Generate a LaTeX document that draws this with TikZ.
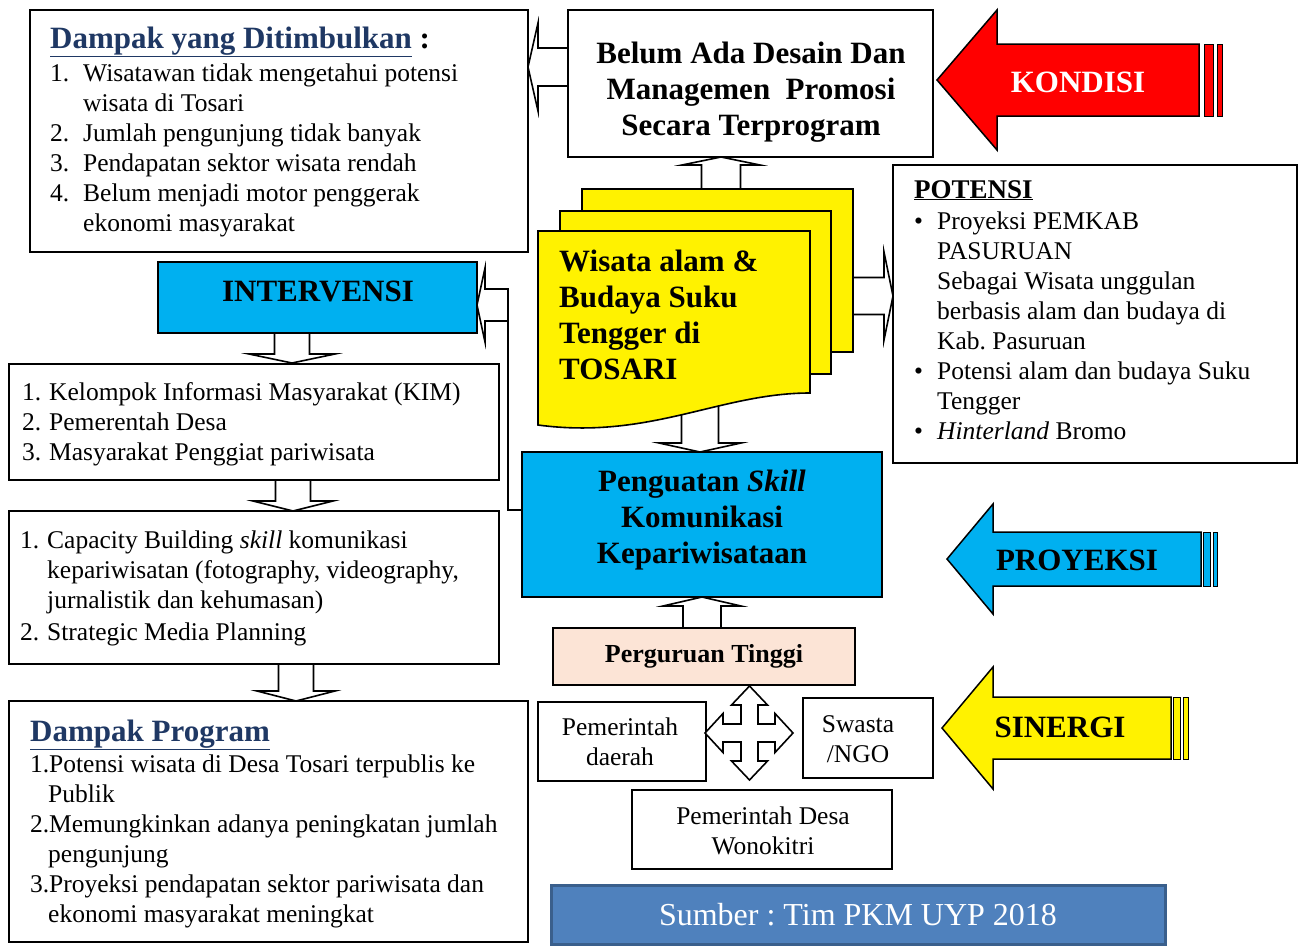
\documentclass[tikz,border=0pt]{standalone}
\usepackage{fontspec}
\setmainfont{Liberation Serif}
\usetikzlibrary{calc}
\frenchspacing
\definecolor{cyanb}{HTML}{00B0F0}
\definecolor{titleblue}{HTML}{1F3864}
\definecolor{peach}{HTML}{FCE4D6}
\definecolor{sumfill}{HTML}{4F81BD}
\definecolor{sumline}{HTML}{3A5F8C}
\newcommand\numlab[2][33pt]{\makebox[#1][l]{#2}}
\newcommand\lind[1][33pt]{\hspace*{#1}}
% hollow block arrow: start, end, shaft half width, head half width, head length
\newcommand\blockarrow[5]{%
  \draw[blk] ($#1!#3pt!90:#2$) -- ($($#2!#5pt!#1$)!#3pt!90:#2$) -- ($($#2!#5pt!#1$)!#4pt!90:#2$) -- #2
   -- ($($#2!#5pt!#1$)!#4pt!-90:#2$) -- ($($#2!#5pt!#1$)!#3pt!-90:#2$) -- ($#1!#3pt!-90:#2$) -- cycle;}
\begin{document}
\begin{tikzpicture}[x=1pt,y=-1pt,
  box/.style={draw=black, line width=1.6pt, fill=white, inner sep=0pt, outer sep=0pt, anchor=north west},
  blk/.style={draw=black, line width=1.6pt, fill=white, line join=miter},
  body/.style={inner sep=0pt, align=left, anchor=base west, font=\fontsize{25.5}{30}\selectfont},
  bodyc/.style={inner sep=0pt, align=center, font=\fontsize{25.5}{30}\selectfont},
  bold/.style={inner sep=0pt, align=center, font=\fontsize{31}{36}\selectfont\bfseries},
  bigarr/.style={draw=black, line width=1.5pt, line join=miter},
  stripe/.style={draw=black, line width=1pt},
  docs/.style={draw=black, line width=1.6pt, fill=yellow},
]
\useasboundingbox (0,0) rectangle (1300,945);

% boxes
\node[box, minimum width=498pt, minimum height=242pt] (dampak) at (30,10) {};
\node[box, minimum width=365pt, minimum height=147pt] (belum) at (568,10) {};
\node[box, minimum width=404pt, minimum height=298pt] (potensi) at (893,165) {};
\node[box, fill=cyanb, minimum width=319pt, minimum height=71pt] (interv) at (158,262) {};
\node[box, minimum width=490pt, minimum height=116pt] (kim) at (9,364) {};
\node[box, minimum width=490pt, minimum height=153pt] (cap) at (9,511) {};
\node[box, minimum width=519pt, minimum height=241pt] (dprog) at (9,701) {};
\node[box, fill=cyanb, minimum width=360pt, minimum height=145pt] (peng) at (522,452) {};
\node[box, fill=peach, line width=1.2pt, minimum width=302pt, minimum height=57pt] (perg) at (553,628) {};
\node[box, minimum width=168pt, minimum height=79pt] (pemda) at (538,702) {};
\node[box, minimum width=130pt, minimum height=80pt] (swasta) at (803,698) {};
\node[box, minimum width=260pt, minimum height=79pt] (desa) at (632,790) {};

% arrow end points
\coordinate (a1s) at (belum.west |- 0,67);
\coordinate (a1e) at (dampak.east |- 0,67);
\coordinate (a2s) at (721,195);
\coordinate (a2e) at (721,157);
\coordinate (a3s) at (845,296);
\coordinate (a3e) at (potensi.west |- 0,296);
\coordinate (a4s) at (700,400);
\coordinate (a4e) at (700,452);
\coordinate (a5s) at (508,305);
\coordinate (a5e) at (interv.east |- 0,305);
\coordinate (a6s) at (292,333);
\coordinate (a6e) at (292,363);
\coordinate (a7s) at (293,480);
\coordinate (a7e) at (293,511);
\coordinate (a8s) at (296,664);
\coordinate (a8e) at (296,701);
\coordinate (a9s) at (702,628);
\coordinate (a9e) at (702,597);
\coordinate (pl) at (508,510);

\blockarrow{(a1s)}{(a1e)}{19}{44}{10}
\blockarrow{(a2s)}{(a2e)}{19.5}{39}{8}
\blockarrow{(a3s)}{(a3e)}{18.5}{44}{9}
\blockarrow{(a4s)}{(a4e)}{18.5}{41}{9}
\blockarrow{(a5s)}{(a5e)}{16}{37}{8}
\blockarrow{(a6s)}{(a6e)}{17.5}{43}{9}
\blockarrow{(a7s)}{(a7e)}{17.5}{40}{10}
\blockarrow{(a8s)}{(a8e)}{17.5}{39}{10}
\blockarrow{(a9s)}{(a9e)}{19}{39}{9}
\draw[line width=1.6pt] (peng.west |- pl) -- (pl) -- (508,321);

% document stack
\draw[docs] (582,189) rectangle (853,352);
\draw[docs] (560,211) rectangle (831,374);
\draw[docs] (538,231) -- (810,231) -- (810,393) .. controls (720,393) and (650,440) .. (538,425) -- cycle;

% four-way arrow
\begin{scope}[shift={(749.5,733)}]
\draw[blk] (0,-47) -- (18,-28) -- (8.5,-28) -- (8.5,-9) -- (25.5,-9) -- (25.5,-19.5) -- (43.5,0) -- (25.5,19.5) -- (25.5,9) -- (8.5,9) -- (8.5,28) -- (18,28) -- (0,47) -- (-18,28) -- (-8.5,28) -- (-8.5,9) -- (-26.5,9) -- (-26.5,19.5) -- (-44.5,0) -- (-26.5,-19.5) -- (-26.5,-9) -- (-8.5,-9) -- (-8.5,-28) -- (-18,-28) -- cycle;
\end{scope}

% big arrows
\draw[bigarr, fill=red] (937,80) -- (997,10) -- (997,44) -- (1199,44) -- (1199,116) -- (997,116) -- (997,150) -- cycle;
\draw[stripe, fill=red] (1204,44) rectangle (1213,116);
\draw[stripe, fill=red] (1217,44) rectangle (1222,116);
\draw[bigarr, fill=cyanb] (947,559) -- (993,504) -- (993,532) -- (1201,532) -- (1201,586) -- (993,586) -- (993,614) -- cycle;
\draw[stripe, fill=cyanb] (1203,532) rectangle (1210,586);
\draw[stripe, fill=cyanb] (1213,532) rectangle (1217,586);
\draw[bigarr, fill=yellow] (942,728) -- (993,667) -- (993,697) -- (1171,697) -- (1171,759) -- (993,759) -- (993,789) -- cycle;
\draw[stripe, fill=yellow] (1173,697) rectangle (1180,759);
\draw[stripe, fill=yellow] (1183,697) rectangle (1188,759);

% texts (base anchor of multi-line nodes = last line's baseline)
\node[bold, anchor=base west] (dampakt) at (50,48) {\textcolor{titleblue}{\underline{Dampak yang Ditimbulkan}} :};
\node[body] (dampaki) at (50,231) {\numlab{1.}Wisatawan tidak mengetahui potensi\\
\lind wisata di Tosari\\
\numlab{2.}Jumlah pengunjung tidak banyak\\
\numlab{3.}Pendapatan sektor wisata rendah\\
\numlab{4.}Belum menjadi motor penggerak\\
\lind ekonomi masyarakat};
\node[bold] (belumt) at (751,92) {Belum Ada Desain Dan\\Managemen~~Promosi\\Secara Terprogram};
\node[bold, text=white] (kondisi) at (1078,82) {KONDISI};
\node[bold, anchor=base west, align=left] (doct) at (559,379) {Wisata alam \&\\Budaya Suku\\Tengger di\\TOSARI};
\node[inner sep=0pt, anchor=base west, font=\fontsize{27}{30}\selectfont\bfseries] (potensit) at (914,198) {\underline{POTENSI}};
\node[body] (potensii) at (914,439) {\numlab[23pt]{•}Proyeksi PEMKAB\\
\lind[23pt]PASURUAN\\
\lind[23pt]Sebagai Wisata unggulan\\
\lind[23pt]berbasis alam dan budaya di\\
\lind[23pt]Kab. Pasuruan\\
\numlab[23pt]{•}Potensi alam dan budaya Suku\\
\lind[23pt]Tengger\\
\numlab[23pt]{•}\textit{Hinterland} Bromo};
\node[bold] (intervt) at (318,291) {INTERVENSI};
\node[body] (kimt) at (22,460) {\numlab[27pt]{1.}Kelompok Informasi Masyarakat (KIM)\\
\numlab[27pt]{2.}Pemerentah Desa\\
\numlab[27pt]{3.}Masyarakat Penggiat pariwisata};
\node[body] (capt) at (20,640) {\numlab[27pt]{1.}Capacity Building \textit{skill} komunikasi\\
\lind[27pt]kepariwisatan (fotography, videography,\\
\lind[27pt]jurnalistik dan kehumasan)\\[2pt]
\numlab[27pt]{2.}Strategic Media Planning};
\node[bold] (pengt) at (702,520) {Penguatan \textit{Skill}\\Komunikasi\\Kepariwisataan};
\node[bold] (proyeksi) at (1077,560) {PROYEKSI};
\node[bold] (sinergi) at (1060,727) {SINERGI};
\node[inner sep=0pt, font=\fontsize{26}{30}\selectfont\bfseries] (pergt) at (perg.center) {Perguruan Tinggi};
\node[bodyc] (pemdat) at (620,742) {Pemerintah\\daerah};
\node[bodyc] (swastat) at (858,739) {Swasta\\/NGO};
\node[bodyc] (desat) at (763,831) {Pemerintah Desa\\Wonokitri};
\node[bold, anchor=base west] (dprogt) at (30,741) {\textcolor{titleblue}{\underline{Dampak Program}}};
\node[body] (dprogi) at (30,922) {\numlab[19pt]{1.}Potensi wisata di Desa Tosari terpublis ke\\
\lind[18pt]Publik\\
\numlab[19pt]{2.}Memungkinkan adanya peningkatan jumlah\\
\lind[18pt]pengunjung\\
\numlab[19pt]{3.}Proyeksi pendapatan sektor pariwisata dan\\
\lind[18pt]ekonomi masyarakat meningkat};

% source box
\node[box, draw=sumline, fill=sumfill, line width=3pt, minimum width=614pt, minimum height=59pt] (sumber) at (551,885) {};
\node[inner sep=0pt, text=white, font=\fontsize{32}{36}\selectfont] (sumbert) at (sumber.center) {Sumber : Tim PKM UYP 2018};
\end{tikzpicture}
\end{document}
